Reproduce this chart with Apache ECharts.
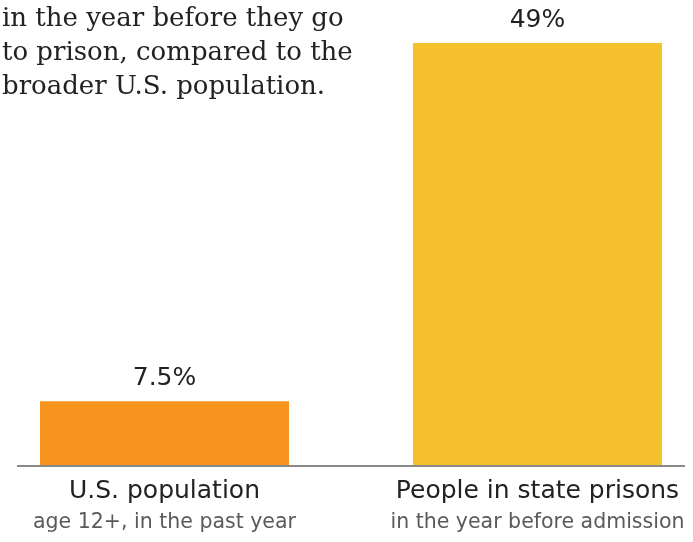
<!DOCTYPE html>
<html>
<head>
<meta charset="utf-8">
<script src="https://cdn.jsdelivr.net/npm/echarts@6/dist/echarts.min.js"></script>
<style>
  html, body { margin: 0; padding: 0; background: #fff; }
  #chart { width: 693px; height: 542px; }
</style>
</head>
<body>
<div id="chart"></div>
<script>
// categories + sub-captions
const categories = ["U.S. population", "People in state prisons"];
const subLabels = ["age 12+, in the past year", "in the year before admission"];
// share of people (%)
const values = [7.5, 49];
const valueLabels = ["7.5%", "49%"];

const barColors = ["#F7941E", "#F5C12C"];

const chart = echarts.init(document.getElementById("chart"));

// bars sit at x = 0, 1 on a value axis so the pair can be offset in the frame
const barData = values.map(function (v, i) { return [i, v]; });

const option = {
  animation: false,
  title: {
    text: "in the year before they go\nto prison, compared to the\nbroader U.S. population.",
    left: -3,
    top: -3,
    textStyle: {
      fontFamily: "DejaVu Serif",
      fontSize: 26,
      fontWeight: "normal",
      color: "#222",
      lineHeight: 34
    }
  },
  grid: { left: 0, right: 0, top: 43, bottom: 76 },
  xAxis: {
    type: "value",
    min: -0.441,
    max: 1.417,
    splitLine: { show: false },
    axisLine: { show: false },
    axisTick: { show: false },
    axisLabel: {
      customValues: [0, 1],
      margin: 10,
      formatter: function (v) {
        const i = Math.round(v);
        return "{a|" + categories[i] + "}\n{b|" + subLabels[i] + "}";
      },
      rich: {
        a: { fontFamily: "DejaVu Sans", fontSize: 25, color: "#222", lineHeight: 30 },
        b: { fontFamily: "DejaVu Sans", fontSize: 20.5, color: "#5a5a5a", lineHeight: 34 }
      }
    }
  },
  yAxis: {
    type: "value",
    min: 0,
    max: 49,
    show: false
  },
  graphic: [{
    type: "line",
    shape: { x1: 17, y1: 466, x2: 685, y2: 466 },
    style: { stroke: "#8a8a8a", lineWidth: 2 },
    z: 10
  }],
  series: [{
    type: "bar",
    barWidth: 249,
    data: barData,
    itemStyle: {
      color: function (p) { return barColors[p.dataIndex]; }
    },
    label: {
      show: true,
      position: "top",
      distance: 10,
      fontFamily: "DejaVu Sans",
      fontSize: 25,
      color: "#222",
      formatter: function (p) { return valueLabels[p.dataIndex]; }
    }
  }]
};

chart.setOption(option);
</script>
</body>
</html>
